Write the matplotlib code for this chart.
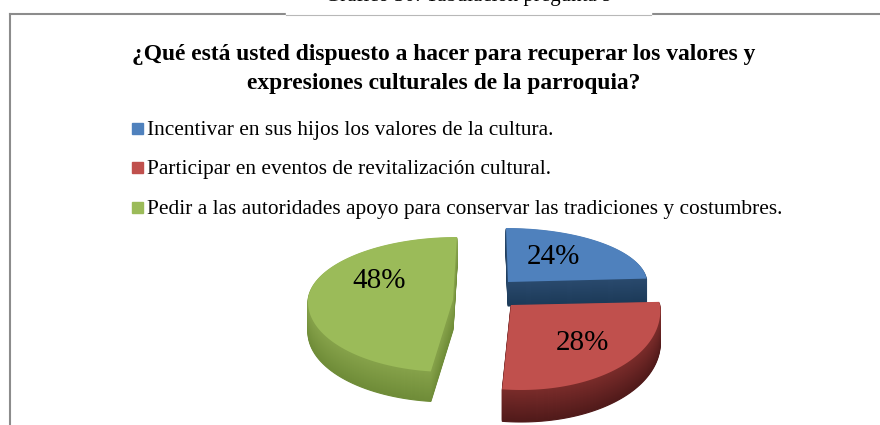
import numpy as np
import matplotlib
matplotlib.use("Agg")
import matplotlib.pyplot as plt
from matplotlib.colors import to_rgb
from matplotlib.patches import Rectangle

title = "¿Qué está usted dispuesto a hacer para recuperar los valores y\nexpresiones culturales de la parroquia?"
caption = "Gráfico 30: Tabulación pregunta 9"
labels = ["Incentivar en sus hijos los valores de la cultura.",
          "Participar en eventos de revitalización cultural.",
          "Pedir a las autoridades apoyo para conservar las tradiciones y costumbres."]
values = [24, 28, 48]
colors = ["#4f81bd", "#c0504d", "#9bbb59"]
side_top = ["#2a4a6e", "#7a2c2a", "#86a24a"]
side_bottom = ["#1c3a58", "#501a1a", "#6f8c38"]

# where each slice sits: centre x, centre y, x radius, top radius, bottom radius, skew, depth
geom = [(508, 282, 139, 54, 50, -2, 24),
        (511, 305, 149, 50, 85, -10, 32),
        (453, 300, 145, 63, 72, 4, 30)]
label_pos = [(553, 257), (582, 343), (379, 281)]
legend_y = [128.5, 167.5, 207.5]
font = "Liberation Serif"


def slice_outline(start, end, g):
    cx, cy, rx, rt, rb, skew, depth = g
    a = np.radians(np.linspace(start, end, 80))
    s = np.sin(a)
    x = cx + rx * np.cos(a) + skew * s
    y = cy - np.where(s > 0, rt, rb) * s
    return np.r_[cx, x], np.r_[cy, y]


fig = plt.figure(figsize=(8.8, 4.25), dpi=100)
ax = fig.add_axes([0, 0, 1, 1])
ax.set_xlim(0, 880)
ax.set_ylim(425, 0)
ax.axis("off")

# chart frame, only left and top are in the crop
ax.plot([9.5, 9.5], [425, 13.5], color="#8c8c8c", lw=1.5)
ax.plot([9.5, 880], [13.5, 13.5], color="#8c8c8c", lw=1.5)
ax.add_patch(Rectangle((286, -5), 365, 19.5, color="white", zorder=3))
ax.plot([286, 651], [14.5, 14.5], color="#b8b8b8", lw=0.8, zorder=4)
# caption is cut by the top of the image in the source too
ax.text(469, -3.8, caption, family=font, fontsize=15, ha="center", va="center", zorder=4)

ax.text(444, 69, title, family=font, fontsize=16.9, fontweight="bold", ha="center",
        va="center", linespacing=1.55)

for i, lab in enumerate(labels):
    y = legend_y[i]
    ax.add_patch(Rectangle((132, y - 5.5), 11, 11, color=colors[i]))
    ax.text(147, y + 1.5, lab, family=font, fontsize=15.4, va="center")

# pie angles come from the values, clockwise from 12 o'clock
edges = 90 - 3.6 * np.cumsum([0] + values)
for i in [0, 2, 1]:
    x, y = slice_outline(edges[i], edges[i + 1], geom[i])
    depth = geom[i][6]
    c1 = np.array(to_rgb(side_top[i]))
    c2 = np.array(to_rgb(side_bottom[i]))
    for d in range(depth, 0, -1):
        t = d / depth
        ax.fill(x, y + d, color=c1 * (1 - t) + c2 * t, lw=0.8)
    ax.fill(x, y, color=colors[i], lw=0)
    ax.text(label_pos[i][0], label_pos[i][1], "%d%%" % values[i], family=font, fontsize=21,
            ha="center", va="center", color="black")

fig.savefig("out.png", dpi=100)
